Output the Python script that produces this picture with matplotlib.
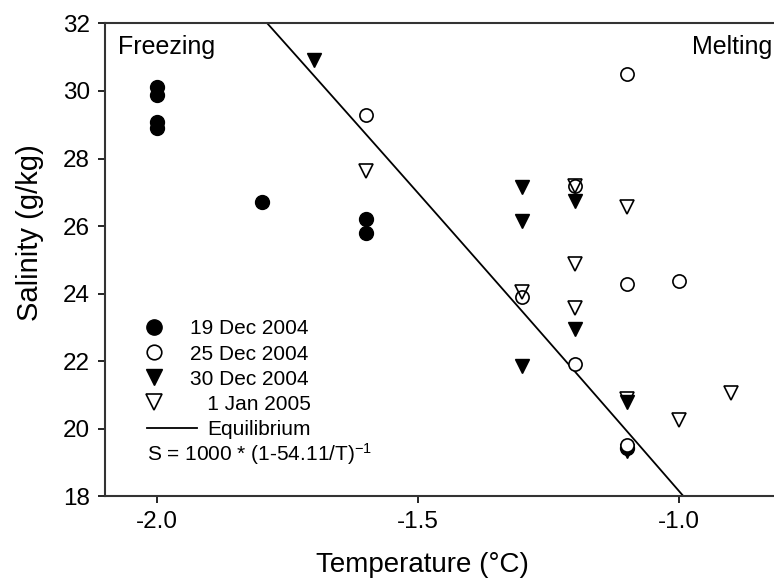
import matplotlib
matplotlib.use("Agg")
import matplotlib.pyplot as plt
from matplotlib.lines import Line2D
import numpy as np

plt.rcParams['font.family'] = ['Liberation Sans', 'DejaVu Sans']
plt.rcParams['axes.unicode_minus'] = False
plt.rcParams['mathtext.default'] = 'regular'

# 19 Dec 2004 (filled circles)
t_dec19 = [-2.0, -2.0, -2.0, -2.0, -1.8, -1.6, -1.6, -1.1]
s_dec19 = [30.13, 29.88, 29.09, 28.89, 26.7, 26.21, 25.78, 19.42]

# 25 Dec 2004 (open circles)
t_dec25 = [-1.6, -1.1, -1.2, -1.1, -1.0, -1.3, -1.2, -1.1]
s_dec25 = [29.29, 30.49, 27.19, 24.27, 24.38, 23.89, 21.9, 19.5]

# 30 Dec 2004 (filled triangles)
t_dec30 = [-1.7, -1.3, -1.3, -1.2, -1.2, -1.3, -1.1, -1.1]
s_dec30 = [30.92, 27.16, 26.15, 26.74, 22.94, 21.85, 20.79, 19.33]

# 1 Jan 2005 (open triangles)
t_jan01 = [-1.6, -1.1, -1.2, -1.3, -1.2, -1.2, -1.1, -1.0, -0.9]
s_jan01 = [27.64, 26.57, 24.87, 24.04, 23.56, 27.19, 20.87, 20.25, 21.04]

# equilibrium line S = 1000 * (1 - 54.11/T)^-1
t_eq = np.linspace(-1.8, -0.99, 100)
s_eq = 1000.0 / (1.0 - 54.11 / t_eq)

fig = plt.figure(figsize=(7.74, 5.83), dpi=100)
ax = fig.add_axes([0.1357, 0.1492, 0.8643, 0.8105])

ax.plot(t_eq, s_eq, color='black', lw=1.3, zorder=2)
ax.plot(t_dec19, s_dec19, 'o', ms=10, color='black', zorder=3)
ax.plot(t_dec30, s_dec30, 'v', ms=10, color='black', zorder=3)
ax.plot(t_dec25, s_dec25, 'o', ms=9.5, mfc='white', mec='black', mew=1.2, zorder=4)
ax.plot(t_jan01, s_jan01, 'v', ms=10, mfc='none', mec='black', mew=1.2, zorder=5)

ax.set_xlim(-2.1, -0.818)
ax.set_ylim(18, 32)
ax.set_xticks([-2.0, -1.5, -1.0])
ax.set_xticklabels(['-2.0', '-1.5', '-1.0'])
ax.set_yticks(range(18, 33, 2))

ax.spines['right'].set_visible(False)
for side in ['left', 'bottom', 'top']:
    ax.spines[side].set_linewidth(1.5)
    ax.spines[side].set_color('#333333')
ax.tick_params(direction='out', length=5, width=1.2, labelsize=17.5, pad=5.8)

ax.set_xlabel('Temperature (\u00b0C)', fontsize=20)
ax.xaxis.set_label_coords(0.474, -0.118)
ax.set_ylabel('Salinity (g/kg)', fontsize=21)
ax.yaxis.set_label_coords(-0.091, 0.557)

fig.text(0.1525, 0.9074, 'Freezing', fontsize=18, va='baseline', ha='left')
fig.text(0.9974, 0.9074, 'Melting', fontsize=18, va='baseline', ha='right')

mk_handles = [
    Line2D([], [], ls='none', marker='o', ms=11, color='black'),
    Line2D([], [], ls='none', marker='o', ms=10.5, mfc='white', mec='black', mew=1.2),
    Line2D([], [], ls='none', marker='v', ms=11, color='black'),
    Line2D([], [], ls='none', marker='v', ms=11, mfc='none', mec='black', mew=1.2),
]
mk_labels = ['19 Dec 2004', '25 Dec 2004', '30 Dec 2004', '   1 Jan 2005']
leg1 = ax.legend(mk_handles, mk_labels, loc='upper left', bbox_to_anchor=(0.1855, 0.452),
                 bbox_transform=fig.transFigure, frameon=False, fontsize=15,
                 handlelength=1.0, handletextpad=1.23, labelspacing=0.29,
                 borderpad=0, borderaxespad=0)
ax.add_artist(leg1)
ax.legend([Line2D([], [], color='black', lw=1.3)], ['Equilibrium'], loc='upper left',
          bbox_to_anchor=(0.190, 0.279), bbox_transform=fig.transFigure, frameon=False,
          fontsize=15, handlelength=2.4, handletextpad=0.48, borderpad=0, borderaxespad=0)
fig.text(0.190, 0.210, 'S = 1000 * (1-54.11/T)$^{-1}$', fontsize=15, va='baseline', ha='left')

fig.savefig('out.png', dpi=100)
